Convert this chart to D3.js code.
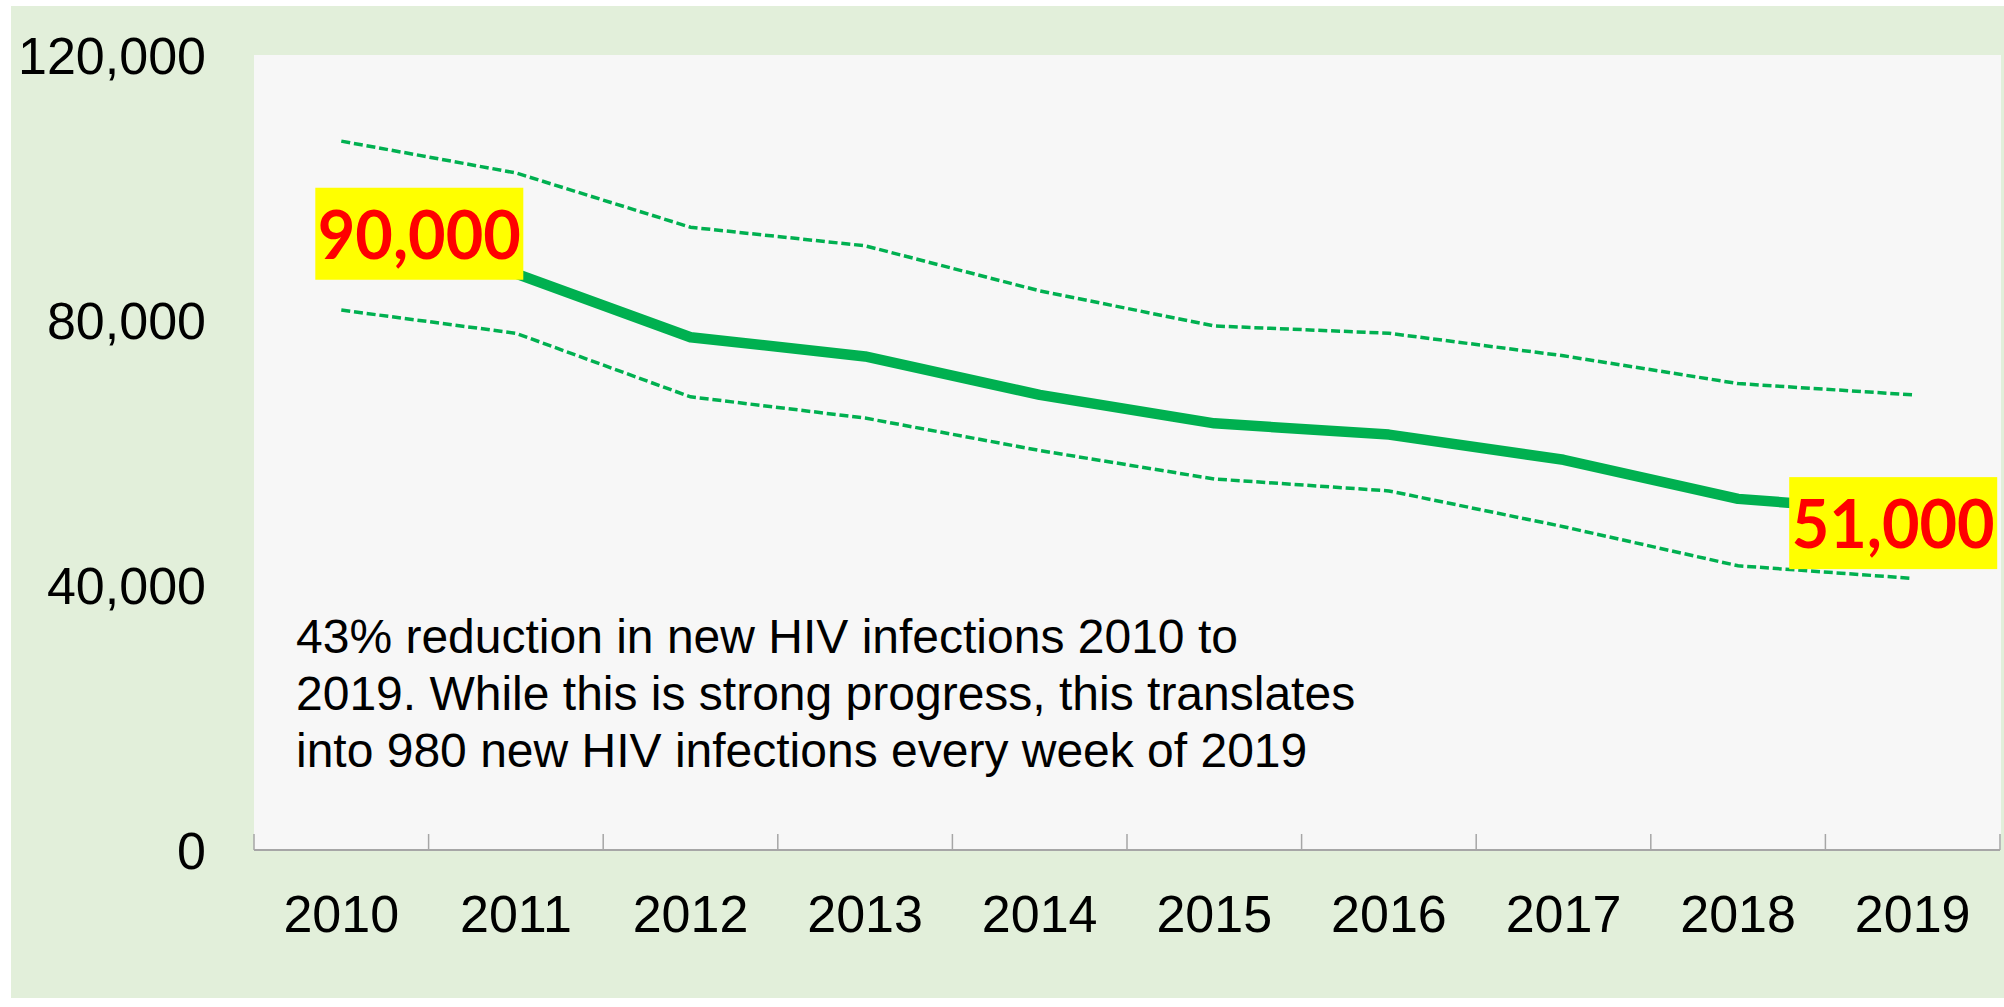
<!DOCTYPE html>
<html>
<head>
<meta charset="utf-8">
<script src="https://cdn.jsdelivr.net/npm/d3@7"></script>
<style>
  html, body { margin: 0; padding: 0; background: #ffffff; }
  svg { display: block; }
</style>
</head>
<body>
<svg id="chart" width="2004" height="1007"></svg>
<script>
// ---- Data ----
const years = ["2010","2011","2012","2013","2014","2015","2016","2017","2018","2019"];
const estimate = [90000, 87000, 77400, 74500, 68700, 64400, 62700, 58900, 53000, 51000];
const upperBound = [107000, 102200, 94000, 91200, 84400, 79100, 78000, 74600, 70400, 68700];
const lowerBound = [81500, 78000, 68400, 65200, 60300, 56000, 54200, 48800, 42900, 41000];
const yTicks = [0, 40000, 80000, 120000];
const labelPoints = [
  { year: "2010", value: 90000, text: "90,000" },
  { year: "2019", value: 51000, text: "51,000" }
];
const noteLines = [
  "43% reduction in new HIV infections 2010 to",
  "2019. While this is strong progress, this translates",
  "into 980 new HIV infections every week of 2019"
];

// ---- Layout ----
const W = 2004, H = 1007;
const plot = { left: 254, right: 2001, top: 55, bottom: 850 };
const svg = d3.select("#chart");

// outer background
svg.append("rect").attr("x", 11).attr("y", 6).attr("width", W - 11).attr("height", 992)
  .attr("fill", "#e2efda");
// plot area
svg.append("rect").attr("x", plot.left).attr("y", plot.top)
  .attr("width", plot.right - plot.left).attr("height", plot.bottom - plot.top)
  .attr("fill", "#f7f7f7");

const x = d3.scaleBand().domain(years).range([plot.left, plot.right - 1]).padding(0);
const y = d3.scaleLinear().domain([0, 120000]).range([plot.bottom, plot.top]);
const cx = d => x(d) + x.bandwidth() / 2;

// x axis line + boundary ticks
const axisG = svg.append("g");
axisG.append("line").attr("x1", plot.left).attr("x2", plot.right - 1)
  .attr("y1", y(0)).attr("y2", y(0)).attr("stroke", "#a6a6a6").attr("stroke-width", 2);
const bounds = years.map(d => x(d)).concat([x(years[years.length - 1]) + x.bandwidth()]);
axisG.selectAll("line.tick").data(bounds).enter().append("line")
  .attr("class", "tick")
  .attr("x1", d => d).attr("x2", d => d)
  .attr("y1", y(0)).attr("y2", y(0) - 16)
  .attr("stroke", "#a6a6a6").attr("stroke-width", 1.5);

// x labels
svg.append("g").selectAll("text").data(years).enter().append("text")
  .attr("x", d => cx(d)).attr("y", 932)
  .attr("text-anchor", "middle")
  .attr("font-family", "'Liberation Sans', Arial, sans-serif")
  .attr("font-size", 52).attr("fill", "#000")
  .text(d => d);

// y labels
const fmt = d3.format(",");
svg.append("g").selectAll("text").data(yTicks).enter().append("text")
  .attr("x", 206).attr("y", d => y(d) + 18.6)
  .attr("text-anchor", "end")
  .attr("font-family", "'Liberation Sans', Arial, sans-serif")
  .attr("font-size", 52).attr("fill", "#000")
  .text(d => fmt(d));

// lines
const line = d3.line().x((d, i) => cx(years[i])).y(d => y(d));
const green = "#00b050";
svg.append("path").datum(upperBound).attr("d", line)
  .attr("fill", "none").attr("stroke", green).attr("stroke-width", 3.5)
  .attr("stroke-dasharray", "9,3.8");
svg.append("path").datum(lowerBound).attr("d", line)
  .attr("fill", "none").attr("stroke", green).attr("stroke-width", 3.5)
  .attr("stroke-dasharray", "9,3.8");
svg.append("path").datum(estimate).attr("d", line)
  .attr("fill", "none").attr("stroke", green).attr("stroke-width", 10.5)
  .attr("stroke-linejoin", "round");

// value labels
const boxW = 208, boxH = 92;
const offsets = { "2010": { dx: -26, dy: -66 }, "2019": { dx: -123.5, dy: -35 } };
const lg = svg.append("g").selectAll("g").data(labelPoints).enter().append("g")
  .attr("transform", d => `translate(${cx(d.year) + offsets[d.year].dx},${y(d.value) + offsets[d.year].dy})`);
lg.append("rect").attr("width", boxW).attr("height", boxH).attr("fill", "#ffff00");
lg.append("text")
  .attr("x", boxW / 2).attr("y", 71)
  .attr("text-anchor", "middle")
  .attr("font-family", "Lato, 'Open Sans', sans-serif")
  .attr("font-weight", 700)
  .attr("font-size", 66)
  .attr("fill", "#ff0000")
  .attr("textLength", 203).attr("lengthAdjust", "spacingAndGlyphs")
  .text(d => d.text);

// note text
svg.append("g").selectAll("text").data(noteLines).enter().append("text")
  .attr("x", 296).attr("y", (d, i) => 653 + i * 57)
  .attr("font-family", "'Liberation Sans', Arial, sans-serif")
  .attr("font-size", 48).attr("fill", "#000")
  .text(d => d);
</script>
</body>
</html>
